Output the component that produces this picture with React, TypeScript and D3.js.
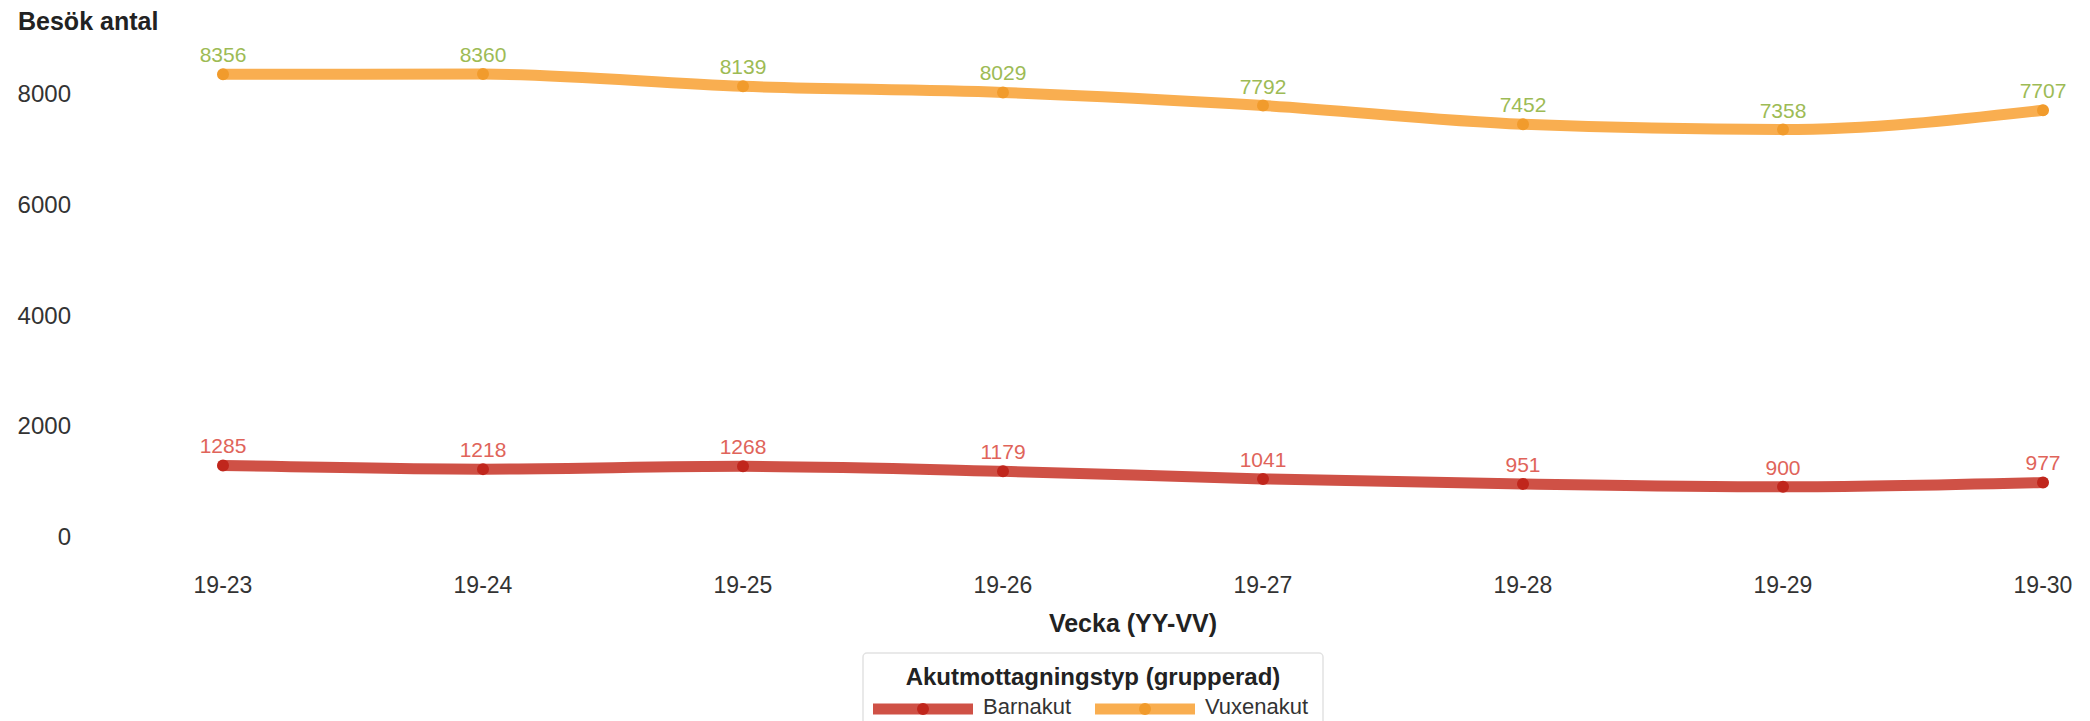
import React from "react";
import * as d3 from "d3";

const weeks = ["19-23", "19-24", "19-25", "19-26", "19-27", "19-28", "19-29", "19-30"];
const barnakut = [1285, 1218, 1268, 1179, 1041, 951, 900, 977];
const vuxenakut = [8356, 8360, 8139, 8029, 7792, 7452, 7358, 7707];
const yTicks = [0, 2000, 4000, 6000, 8000];
const seriesNames = ["Barnakut", "Vuxenakut"];

const W = 2090;
const H = 721;
const FONT = "'Liberation Sans', Arial, sans-serif";

const series = [
  { name: seriesNames[0], values: barnakut, line: "#cf5146", dot: "#c0261c", label: "#e0645a" },
  { name: seriesNames[1], values: vuxenakut, line: "#f9ae50", dot: "#f19b2c", label: "#9dbb55" },
];

export default function App() {
  const x = d3.scalePoint<string>().domain(weeks).range([223, 2043]);
  const y = d3.scaleLinear().domain([0, 8000]).range([536.5, 94]);
  const line = d3
    .line<number>()
    .x((_, i) => x(weeks[i]) as number)
    .y((d) => y(d))
    .curve(d3.curveMonotoneX);

  return (
    <svg width={W} height={H} style={{ position: "absolute", left: 0, top: 0, background: "#fff" }} fontFamily={FONT}>
      <text x={18} y={30} fontSize={25} fontWeight="bold" fill="#222">Besök antal</text>
      {yTicks.map((t) => (
        <text key={t} x={71} y={y(t)} dy="0.35em" textAnchor="end" fontSize={24} fill="#333">{t}</text>
      ))}
      {weeks.map((w) => (
        <text key={w} x={x(w) as number} y={593} textAnchor="middle" fontSize={23} fill="#333">{w}</text>
      ))}
      <text x={1133} y={632} textAnchor="middle" fontSize={25} fontWeight="bold" fill="#222">Vecka (YY-VV)</text>
      {series.map((s) => (
        <g key={s.name}>
          <path d={line(s.values) as string} fill="none" stroke={s.line} strokeWidth={11} strokeLinecap="round" strokeLinejoin="round" />
          {s.values.map((v, i) => (
            <circle key={i} cx={x(weeks[i]) as number} cy={y(v)} r={6} fill={s.dot} />
          ))}
          {s.values.map((v, i) => (
            <text key={"l" + i} x={x(weeks[i]) as number} y={y(v) - 12} textAnchor="middle" fontSize={21} fill={s.label}>{v}</text>
          ))}
        </g>
      ))}
      <rect x={863} y={653} width={460} height={90} rx={4} fill="#fff" stroke="#e2e2e2" strokeWidth={1.5} />
      <text x={1093} y={685} textAnchor="middle" fontSize={24} fontWeight="bold" fill="#222">Akutmottagningstyp (grupperad)</text>
      {series.map((s, i) => {
        const x0 = i === 0 ? 873 : 1095;
        return (
          <g key={"leg" + s.name}>
            <line x1={x0} x2={x0 + 100} y1={709} y2={709} stroke={s.line} strokeWidth={11} />
            <circle cx={x0 + 50} cy={709} r={6} fill={s.dot} />
            <text x={x0 + 110} y={714} fontSize={22} fill="#333">{s.name}</text>
          </g>
        );
      })}
    </svg>
  );
}
